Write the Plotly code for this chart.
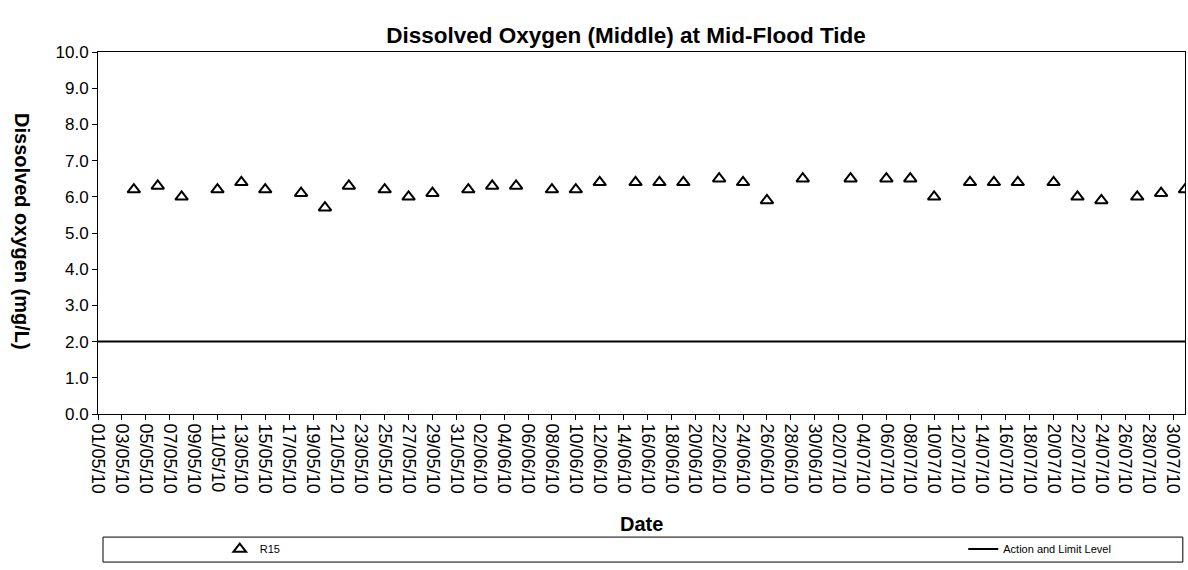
import plotly.graph_objects as go

# Sampling dates (dd/mm/yy) and dissolved oxygen readings at R15
dates = [
    "04/05/10", "06/05/10", "08/05/10", "11/05/10", "13/05/10", "15/05/10",
    "18/05/10", "20/05/10", "22/05/10", "25/05/10", "27/05/10", "29/05/10",
    "01/06/10", "03/06/10", "05/06/10", "08/06/10", "10/06/10", "12/06/10",
    "15/06/10", "17/06/10", "19/06/10", "22/06/10", "24/06/10", "26/06/10",
    "29/06/10", "03/07/10", "06/07/10", "08/07/10", "10/07/10", "13/07/10",
    "15/07/10", "17/07/10", "20/07/10", "22/07/10", "24/07/10", "27/07/10",
    "29/07/10", "31/07/10",
]
do_r15 = [
    6.2, 6.3, 6.0, 6.2, 6.4, 6.2,
    6.1, 5.7, 6.3, 6.2, 6.0, 6.1,
    6.2, 6.3, 6.3, 6.2, 6.2, 6.4,
    6.4, 6.4, 6.4, 6.5, 6.4, 5.9,
    6.5, 6.5, 6.5, 6.5, 6.0, 6.4,
    6.4, 6.4, 6.4, 6.0, 5.9, 6.0,
    6.1, 6.2,
]

# Action and Limit Level (mg/L) across the whole period
action_dates = ["01/05/10", "31/07/10"]
action_level = [2.0, 2.0]

y_ticks = [0, 1, 2, 3, 4, 5, 6, 7, 8, 9, 10]


def iso(d):
    dd, mm, yy = d.split("/")
    return f"20{yy}-{mm}-{dd}"


FONT = "Arial, Liberation Sans, sans-serif"
LEGEND_FONT = dict(size=11, family=FONT, color="black")

fig = go.Figure()
fig.add_trace(go.Scatter(
    x=[iso(d) for d in dates], y=do_r15, mode="markers", name="R15",
    marker=dict(symbol="triangle-up-open", size=11, color="black",
                line=dict(width=2, color="black")),
    legend="legend",
))
fig.add_trace(go.Scatter(
    x=[iso(d) for d in action_dates], y=action_level, mode="lines",
    name="Action and Limit Level", line=dict(color="black", width=2),
    legend="legend2",
))

fig.update_layout(
    width=1188, height=570,
    paper_bgcolor="white", plot_bgcolor="white",
    margin=dict(l=98, r=3, t=52, b=156),
    font=dict(family=FONT, color="black"),
    title=dict(text="<b>Dissolved Oxygen (Middle) at Mid-Flood Tide</b>",
               x=0.527, xanchor="center", y=1 - 35 / 570, yanchor="middle",
               font=dict(size=22.5, family=FONT, color="black")),
    showlegend=True,
    legend=dict(orientation="h", x=0.112, xanchor="left",
                y=-0.373, yanchor="middle", font=LEGEND_FONT,
                bgcolor="rgba(0,0,0,0)", borderwidth=0),
    legend2=dict(orientation="h", x=0.796, xanchor="left",
                 y=-0.373, yanchor="middle", font=LEGEND_FONT,
                 bgcolor="rgba(0,0,0,0)", borderwidth=0),
)

fig.update_xaxes(
    type="date", range=[iso("01/05/10"), iso("31/07/10")],
    tick0=iso("01/05/10"), dtick=2 * 86400000, tickformat="%d/%m/%y",
    tickangle=90, tickfont=dict(size=18, family=FONT, color="black"),
    ticks="outside", ticklen=5, tickcolor="black",
    showline=True, linecolor="black", linewidth=1, mirror=True,
    showgrid=False, zeroline=False,
)
fig.update_yaxes(
    range=[0, 10], tickvals=y_ticks, tickformat=".1f",
    tickfont=dict(size=17, family=FONT, color="black"),
    ticks="outside", ticklen=5, tickcolor="black",
    showline=True, linecolor="black", linewidth=1, mirror=True,
    showgrid=False, zeroline=False,
)

# Axis titles
fig.add_annotation(text="<b>Date</b>", xref="paper", yref="paper",
                   x=0.5, y=-0.304, xanchor="center", yanchor="middle",
                   showarrow=False, font=dict(size=20, family=FONT, color="black"))
fig.add_annotation(text="<b>Dissolved oxygen (mg/L)</b>", xref="paper", yref="paper",
                   x=-0.07, y=0.503, xanchor="center", yanchor="middle",
                   textangle=90, showarrow=False,
                   font=dict(size=20, family=FONT, color="black"))

# Legend frame spanning the width under the chart
fig.add_shape(type="rect", xref="paper", yref="paper",
              x0=0.0046, x1=0.998, y0=-0.409, y1=-0.340,
              line=dict(color="black", width=1), fillcolor="rgba(0,0,0,0)")

fig.write_html("out.html")
